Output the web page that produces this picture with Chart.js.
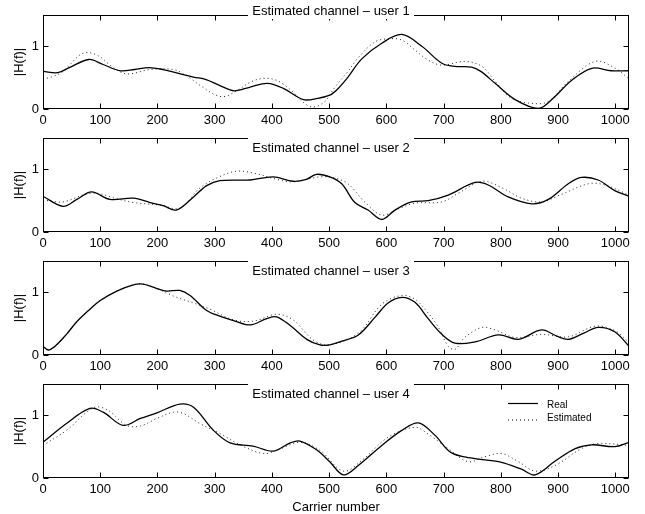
<!DOCTYPE html>
<html><head><meta charset="utf-8">
<script src="https://cdn.jsdelivr.net/npm/chart.js@4/dist/chart.umd.min.js"></script>
<style>
html,body{margin:0;padding:0;background:#fff;overflow:hidden;width:645px;height:514px;position:relative}
canvas{position:absolute;left:0}
</style></head><body>
<canvas id="c1" width="645" height="134" style="top:0px"></canvas>
<canvas id="c2" width="645" height="134" style="top:123px"></canvas>
<canvas id="c3" width="645" height="134" style="top:246px"></canvas>
<canvas id="c4" width="645" height="150" style="top:369px"></canvas>
<script>
// ---- data ----
const xTicks = [0,100,200,300,400,500,600,700,800,900,1000];
const yTicks = [0,1];
const titles = ['Estimated channel \u2013 user 1','Estimated channel \u2013 user 2','Estimated channel \u2013 user 3','Estimated channel \u2013 user 4'];
const seriesNames = ['Real','Estimated'];
const xLabel = 'Carrier number';
const yLabel = '|H(f)|';

const u1RealX = [0,26,46,80,105,135,160,185,210,237,263,285,310,334,362,392,420,455,480,501,515,533,557,592,627,662,697,720,749,765,790,825,866,890,924,959,993,1024];
const u1RealY = [0.60,0.58,0.66,0.79,0.71,0.61,0.63,0.66,0.63,0.57,0.51,0.47,0.37,0.29,0.35,0.41,0.33,0.15,0.17,0.22,0.32,0.51,0.80,1.05,1.19,1.00,0.73,0.68,0.67,0.60,0.41,0.15,0.01,0.16,0.46,0.65,0.61,0.61];
const u1EstX = [0,15,35,64,80,100,120,146,187,228,251,274,300,318,340,365,388,410,432,466,490,511,533,550,580,603,627,650,673,697,737,767,790,819,854,883,918,965,1000,1024];
const u1EstY = [0.48,0.51,0.60,0.86,0.90,0.83,0.68,0.56,0.63,0.63,0.53,0.38,0.23,0.20,0.30,0.44,0.49,0.45,0.31,0.04,0.10,0.36,0.60,0.81,1.07,1.12,1.10,0.94,0.78,0.70,0.76,0.68,0.44,0.17,0.09,0.12,0.44,0.76,0.65,0.48];

const u2RealX = [0,35,59,85,117,158,187,210,233,263,286,309,362,402,437,460,478,501,522,545,568,592,615,644,673,708,755,778,813,854,883,918,941,970,999,1024];
const u2RealY = [0.57,0.41,0.52,0.64,0.52,0.54,0.47,0.42,0.35,0.56,0.74,0.82,0.83,0.88,0.81,0.84,0.92,0.88,0.77,0.47,0.35,0.20,0.35,0.48,0.50,0.59,0.79,0.75,0.56,0.45,0.52,0.77,0.87,0.83,0.66,0.57];
const u2EstX = [0,35,70,94,125,158,205,239,274,303,338,373,408,437,484,510,533,562,592,621,650,697,726,767,801,836,871,906,953,982,1024];
const u2EstY = [0.51,0.48,0.59,0.62,0.54,0.47,0.43,0.38,0.70,0.86,0.97,0.93,0.84,0.80,0.88,0.86,0.77,0.48,0.27,0.37,0.46,0.48,0.62,0.81,0.71,0.54,0.48,0.60,0.77,0.75,0.59];

const u3RealX = [0,9,21,41,59,82,100,129,158,175,199,216,239,257,286,309,333,362,391,408,432,461,484,501,522,551,580,603,627,650,673,697,720,755,796,831,871,898,918,945,970,999,1024];
const u3RealY = [0.14,0.08,0.14,0.33,0.53,0.73,0.87,1.02,1.12,1.13,1.06,1.02,1.03,0.95,0.71,0.62,0.55,0.48,0.58,0.61,0.47,0.25,0.16,0.16,0.22,0.32,0.60,0.83,0.92,0.84,0.58,0.33,0.19,0.21,0.32,0.25,0.40,0.30,0.25,0.35,0.44,0.37,0.14];
const u3EstX = [0,10,21,41,59,82,100,129,158,175,200,228,263,292,333,368,408,437,472,499,551,592,627,650,673,691,708,720,737,767,790,825,871,918,965,999,1024];
const u3EstY = [0.10,0.09,0.13,0.33,0.53,0.73,0.87,1.02,1.12,1.13,1.06,0.94,0.83,0.73,0.56,0.54,0.65,0.56,0.24,0.16,0.35,0.81,0.95,0.89,0.67,0.44,0.14,0.09,0.28,0.44,0.40,0.28,0.33,0.29,0.46,0.39,0.20];

const u4RealX = [0,41,82,105,140,170,199,239,263,298,327,367,402,432,449,478,501,525,551,592,627,656,685,714,755,801,836,860,895,930,959,999,1024];
const u4RealY = [0.57,0.87,1.11,1.05,0.84,0.95,1.04,1.18,1.13,0.76,0.56,0.51,0.43,0.56,0.59,0.45,0.26,0.05,0.20,0.52,0.76,0.88,0.68,0.40,0.31,0.25,0.14,0.05,0.27,0.47,0.53,0.50,0.57];
const u4EstX = [0,41,88,112,146,170,199,228,245,274,309,344,385,408,449,484,525,557,603,650,673,708,743,772,801,831,860,895,941,970,1024];
const u4EstY = [0.52,0.76,1.12,1.09,0.84,0.83,0.95,1.05,1.03,0.87,0.71,0.53,0.39,0.44,0.57,0.44,0.11,0.28,0.65,0.81,0.70,0.47,0.26,0.34,0.39,0.26,0.11,0.20,0.47,0.55,0.52];

const users = [
  {rx:u1RealX, ry:u1RealY, ex:u1EstX, ey:u1EstY},
  {rx:u2RealX, ry:u2RealY, ex:u2EstX, ey:u2EstY},
  {rx:u3RealX, ry:u3RealY, ex:u3EstX, ey:u3EstY},
  {rx:u4RealX, ry:u4RealY, ex:u4EstX, ey:u4EstY}
];

const FONT = '"Liberation Sans", Arial, Helvetica, sans-serif';
Chart.defaults.font.family = FONT;
Chart.defaults.color = '#000';

const framePlugin = {
  id: 'frame',
  afterDraw(chart, args, opts) {
    const {ctx, chartArea: a, scales} = chart;
    ctx.save();
    ctx.strokeStyle = '#000';
    ctx.lineWidth = 1;
    const L = Math.round(a.left) + 0.5, R = Math.round(a.right) - 0.5;
    const T = Math.round(a.top) + 0.5, B = Math.round(a.bottom) - 0.5;
    ctx.strokeRect(L, T, R - L, B - T);
    ctx.beginPath();
    xTicks.forEach(v => {
      const x = Math.round(scales.x.getPixelForValue(v)) + 0.5;
      ctx.moveTo(x, B); ctx.lineTo(x, B - 5);
      ctx.moveTo(x, T); ctx.lineTo(x, T + 5);
    });
    yTicks.forEach(v => {
      const y = Math.round(scales.y.getPixelForValue(v)) + 0.5;
      ctx.moveTo(L, y); ctx.lineTo(L + 5, y);
      ctx.moveTo(R, y); ctx.lineTo(R - 5, y);
    });
    ctx.stroke();
    // title with white box over the frame
    const ty = a.top + opts.titleDy;
    const boxTop = Math.min(ty - 8, a.top - 2);
    ctx.fillStyle = '#fff';
    ctx.fillRect(248, boxTop, 166, ty + 8 - boxTop);
    ctx.fillStyle = '#000';
    ctx.font = '13px ' + FONT;
    ctx.textAlign = 'center';
    ctx.textBaseline = 'middle';
    ctx.fillText(opts.title, 331, ty);
    if (opts.legend) {
      const ds = chart.data.datasets;
      ctx.font = '10px ' + FONT;
      ctx.textAlign = 'left';
      ctx.lineWidth = 1.2;
      ctx.beginPath(); ctx.moveTo(508, 34.5); ctx.lineTo(538, 34.5); ctx.stroke();
      ctx.fillText(ds[0].label, 547, 36);
      ctx.lineWidth = 1;
      ctx.setLineDash([1, 3]);
      ctx.beginPath(); ctx.moveTo(508, 51); ctx.lineTo(538, 51); ctx.stroke();
      ctx.setLineDash([]);
      ctx.fillText(ds[1].label, 547, 49);
    }
    ctx.restore();
  }
};

function makeChart(id, i) {
  const u = users[i];
  const last = i === 3;
  new Chart(document.getElementById(id), {
    type: 'line',
    data: {
      datasets: [
        { label: seriesNames[0], data: u.rx.map((x, k) => ({x, y: u.ry[k]})),
          borderColor: '#000', borderWidth: 1.3, pointRadius: 0, tension: 0.35, fill: false },
        { label: seriesNames[1], data: u.ex.map((x, k) => ({x, y: u.ey[k]})),
          borderColor: '#222', borderWidth: 1, borderDash: [1, 3], pointRadius: 0, tension: 0.35, fill: false }
      ]
    },
    options: {
      responsive: false, animation: false, events: [],
      layout: { padding: { top: 15, left: 8, right: 16, bottom: 0 } },
      plugins: {
        legend: { display: false }, tooltip: { enabled: false },
        frame: { title: titles[i], titleDy: i === 0 ? -4 : 10.5, legend: last }
      },
      scales: {
        x: {
          type: 'linear', min: 0, max: 1024,
          grid: { display: false, drawTicks: false }, border: { display: false },
          afterBuildTicks: s => { s.ticks = xTicks.map(v => ({value: v})); },
          afterFit: s => { s.height = last ? 41 : 25; },
          ticks: { font: { size: 13 }, color: '#000', padding: 4, autoSkip: false, maxRotation: 0,
                   callback: v => String(v) },
          title: { display: last, text: xLabel, font: { size: 13 }, color: '#000' }
        },
        y: {
          min: 0, max: 1.5,
          grid: { display: false, drawTicks: false }, border: { display: false },
          afterBuildTicks: s => { s.ticks = yTicks.map(v => ({value: v})); },
          afterFit: s => { s.width = 35; },
          ticks: { font: { size: 13 }, color: '#000', padding: 4, callback: v => String(v) },
          title: { display: true, text: yLabel, font: { size: 13 }, color: '#000' }
        }
      }
    },
    plugins: [framePlugin]
  });
}
makeChart('c1', 0);
makeChart('c2', 1);
makeChart('c3', 2);
makeChart('c4', 3);
</script>
</body></html>
